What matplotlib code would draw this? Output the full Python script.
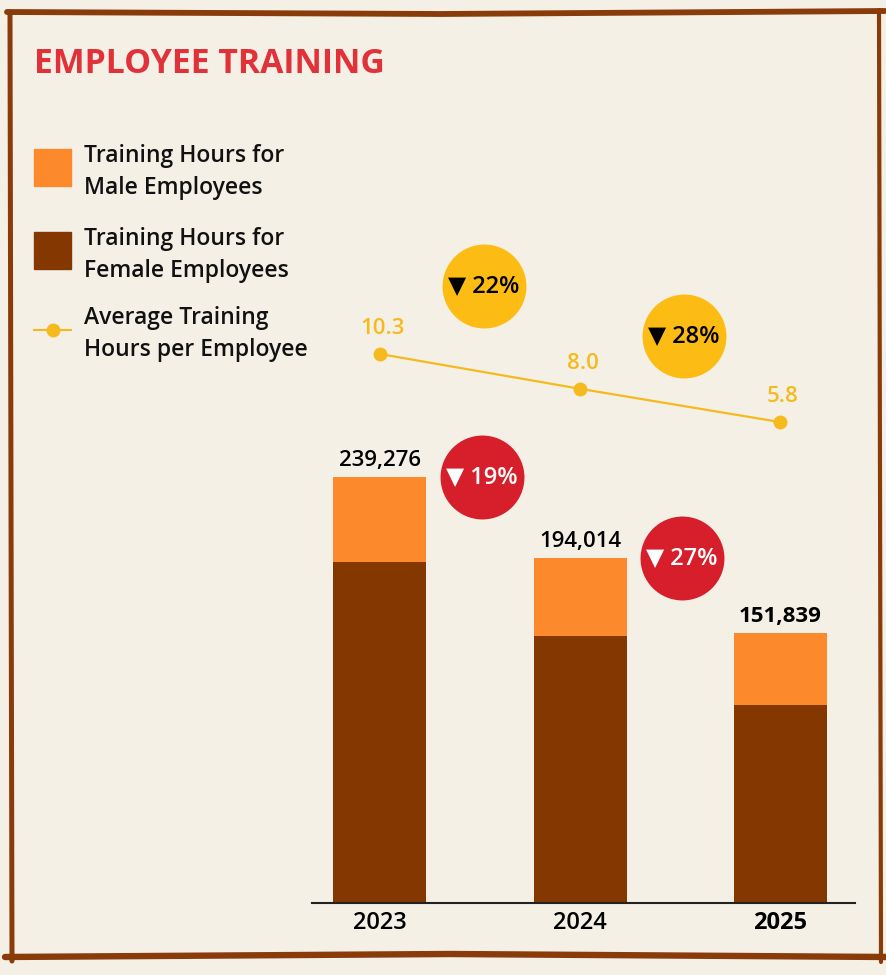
import matplotlib.pyplot as plt
from matplotlib.lines import Line2D
from matplotlib.patches import Rectangle

plt.rcParams['font.family'] = ['Open Sans', 'DejaVu Sans']

years = ['2023', '2024', '2025']
totals = [239276, 194014, 151839]
female_hours = [191500, 150000, 111000]
male_hours = [t - f for t, f in zip(totals, female_hours)]
avg_hours = [10.3, 8.0, 5.8]
hours_change = ['19%', '27%']
avg_change = ['22%', '28%']

BG = '#F4F0E6'
BROWN = '#843800'
ORANGE = '#FC892C'
YELLOW = '#FDBC14'
LINE_YEL = '#F5BA1E'
RED = '#D61F2B'
FRAME = '#8A3B0A'
W, H = 887, 975
WT = 'semibold'


def fx(px):
    return px / W


def fy(py):
    return 1 - py / H


fig = plt.figure(figsize=(8.87, 9.75), dpi=100)
fig.patch.set_facecolor(BG)

# hand drawn frame
frame = [
    ([7, 440, 885], [12, 14, 11], 4.2),
    ([10, 11, 12], [14, 500, 961], 3.6),
    ([5, 450, 887], [957, 954, 957], 4.6),
    ([879, 880, 881], [10, 480, 962], 3.0),
]
for xs, ys, lw in frame:
    fig.add_artist(Line2D([fx(v) for v in xs], [fy(v) for v in ys],
                          color=FRAME, lw=lw, solid_capstyle='round'))

fig.text(fx(34), fy(64), 'EMPLOYEE TRAINING', color='#E1323A', fontsize=24.3,
         fontweight='bold', va='center', ha='left')

# legend
fig.add_artist(Rectangle((fx(34), fy(186)), fx(37), 37 / H, color=ORANGE))
fig.add_artist(Rectangle((fx(34), fy(269)), fx(37), 37 / H, color=BROWN))
fig.add_artist(Line2D([fx(34), fx(71)], [fy(330), fy(330)], color=LINE_YEL, lw=1.5))
fig.add_artist(Line2D([fx(53)], [fy(330)], marker='o', ms=9, color=LINE_YEL))
legend_txt = [('Training Hours for\nMale Employees', 172),
              ('Training Hours for\nFemale Employees', 255),
              ('Average Training\nHours per Employee', 334)]
for txt, py in legend_txt:
    fig.text(fx(84), fy(py), txt, fontsize=16.5, fontweight=WT, va='center',
             ha='left', linespacing=1.42, color='#111111')

# bars
ax = fig.add_axes([fx(312), fy(903), fx(855 - 312), (903 - 230) / H])
ax.set_facecolor('none')
xs = range(len(years))
ax.bar(xs, female_hours, width=0.465, color=BROWN)
ax.bar(xs, male_hours, width=0.465, bottom=female_hours, color=ORANGE)
ax.set_xlim(-0.34, 2.375)
ax.set_ylim(0, 378000)
for i, t in enumerate(totals):
    ax.annotate(f'{t:,}', (i, t), xytext=(0, 4), textcoords='offset points',
                ha='center', va='bottom', fontsize=16,
                fontweight='bold' if i == len(totals) - 1 else WT)
for i, lab in enumerate(hours_change):
    ax.scatter(i + 0.51, totals[i], s=3650, color=RED, zorder=3, linewidths=0)
    ax.text(i + 0.51, totals[i], '▼ ' + lab, color='white', fontsize=17,
            fontweight=WT, ha='center', va='center', zorder=4)

ax.set_xticks(list(xs))
ax.set_xticklabels(years, fontsize=17)
for i, tl in enumerate(ax.get_xticklabels()):
    tl.set_fontweight('bold' if i == len(years) - 1 else WT)
ax.tick_params(axis='x', length=0, pad=6)
ax.set_yticks([])
for s in ['top', 'left', 'right']:
    ax.spines[s].set_visible(False)
ax.spines['bottom'].set_linewidth(1.5)
ax.spines['bottom'].set_color('#222222')

# average hours line
ax2 = ax.twinx()
ax2.set_ylim(-26.0, 18.5)
ax2.plot(xs, avg_hours, color=LINE_YEL, lw=1.6, marker='o', ms=9)
for i, v in enumerate(avg_hours):
    ax2.annotate(f'{v:.1f}', (i, v), xytext=(2, 11), textcoords='offset points',
                 ha='center', va='bottom', fontsize=16, fontweight=WT,
                 color=LINE_YEL)
for i, lab in enumerate(avg_change):
    by = avg_hours[i] + (4.5 if i == 0 else 3.5)
    ax2.scatter(i + 0.52, by, s=3650, color=YELLOW, zorder=3, linewidths=0)
    ax2.text(i + 0.52, by, '▼ ' + lab, color='black', fontsize=17,
             fontweight=WT, ha='center', va='center', zorder=4)
ax2.set_yticks([])
ax2.axis('off')

fig.savefig('out.png', dpi=100, facecolor=BG)
